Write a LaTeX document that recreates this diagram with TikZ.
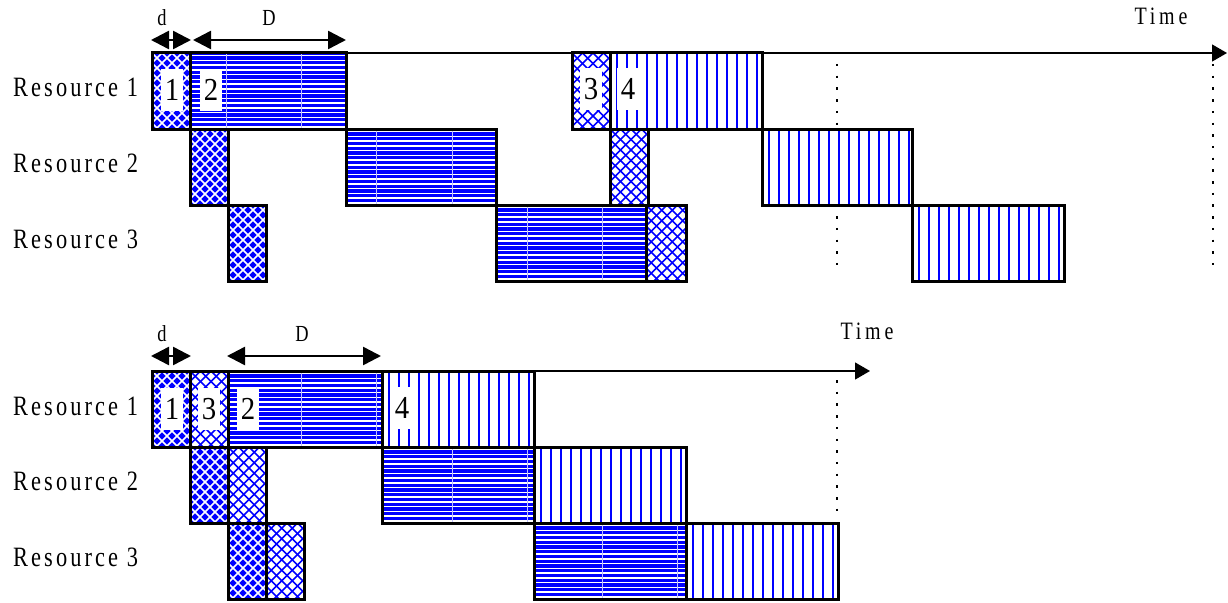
\documentclass[tikz,border=0pt]{standalone}
\usepackage{fontspec}
\setmainfont{Liberation Serif}
\newfontfamily\resfont[FakeStretch=0.8,LetterSpace=11]{Liberation Serif}
\newfontfamily\timefont[FakeStretch=0.8,LetterSpace=15]{Liberation Serif}
\newfontfamily\numfont[FakeStretch=0.9]{Liberation Serif}
\usetikzlibrary{arrows.meta}

\tikzset{
  border/.style={draw=black,line width=3pt},
  reslabel/.style={anchor=base west,inner sep=0pt,font={\resfont\fontsize{28}{30}\selectfont}},
  timelabel/.style={inner sep=0pt,font={\timefont\fontsize{25}{28}\selectfont}},
  dimlabel/.style={inner sep=0pt,font={\timefont\fontsize{23}{26}\selectfont}},
  numlabel/.style={fill=white,inner sep=0pt,minimum width=22pt,minimum height=42pt,font={\numfont\fontsize{32}{34}\selectfont}},
  axis/.style={draw=black,line width=1.3pt,-{Triangle[length=15pt,width=17pt]}},
  dimarrow/.style={draw=black,line width=2.5pt,{Triangle[length=18pt,width=18pt]}-{Triangle[length=18pt,width=18pt]},shorten <=-1pt,shorten >=-1pt},
  dotline/.style={draw=black,line width=2.5pt,dash pattern=on 2.5pt off 9.2pt},
}

% dark crosshatch: blue with white diagonal grid
\newcommand{\DarkX}[3]{%
  \begin{scope}
    \clip (#1,#2) rectangle (#3,#2+76);
    \fill[blue] (#1,#2) rectangle (#3,#2+76);
    \foreach \k in {-10,...,14}{
      \draw[white,line width=1.7pt] (#1+\k*10,#2) -- ++(76,76);
      \draw[white,line width=1.7pt] (#1+\k*10,#2) -- ++(-76,76);
    }
  \end{scope}
  \draw[border] (#1,#2) rectangle (#3,#2+76);
}
% light crosshatch: white with blue diagonal grid
\newcommand{\LightX}[3]{%
  \begin{scope}
    \clip (#1,#2) rectangle (#3,#2+76);
    \fill[white] (#1,#2) rectangle (#3,#2+76);
    \foreach \k in {-10,...,14}{
      \draw[blue,line width=1.7pt] (#1+\k*10.5,#2) -- ++(76,76);
      \draw[blue,line width=1.7pt] (#1+\k*10.5,#2) -- ++(-76,76);
    }
  \end{scope}
  \draw[border] (#1,#2) rectangle (#3,#2+76);
}
% horizontal stripes: blue with white lines
\newcommand{\HorzB}[3]{%
  \begin{scope}
    \clip (#1,#2) rectangle (#3,#2+76);
    \fill[blue] (#1,#2) rectangle (#3,#2+76);
    \foreach \k in {0,...,15}{
      \draw[white,line width=1.3pt] (#1,#2+2.6+\k*4.75) -- (#3,#2+2.6+\k*4.75);
    }
    \foreach \s in {226,301,376,452,527,602,677}{
      \draw[blue!25,line width=1pt] (\s,#2) -- (\s,#2+76);
    }
  \end{scope}
  \draw[border] (#1,#2) rectangle (#3,#2+76);
}
% vertical stripes: white with blue lines
\newcommand{\VertB}[3]{%
  \begin{scope}
    \clip (#1,#2) rectangle (#3,#2+76);
    \fill[white] (#1,#2) rectangle (#3,#2+76);
    \foreach \k in {0,...,14}{
      \draw[blue,line width=2pt] (#1+7+\k*10,#2) -- (#1+7+\k*10,#2+76);
    }
  \end{scope}
  \draw[border] (#1,#2) rectangle (#3,#2+76);
}

\begin{document}
\begin{tikzpicture}[x=1pt,y=-1pt]
\useasboundingbox (0,0) rectangle (1228,602);

% ---------------- top chart ----------------
\coordinate (tA0) at (152,53);
\coordinate (tA1) at (1227,53);
\coordinate (tdot1a) at (837,64);
\coordinate (tdot1b) at (837,268);
\coordinate (tdot2a) at (1213,64);
\coordinate (tdot2b) at (1213,268);
\draw[dotline] (tdot1a) -- (tdot1b);
\draw[dotline] (tdot2a) -- (tdot2b);
\draw[axis] (tA0) -- (tA1);

\DarkX{152}{53}{190}
\HorzB{190}{53}{346}
\LightX{572}{53}{610}
\VertB{610}{53}{762}

\DarkX{190}{129}{228}
\HorzB{346}{129}{496}
\LightX{610}{129}{648}
\VertB{762}{129}{912}

\DarkX{228}{205}{266}
\HorzB{496}{205}{646}
\LightX{646}{205}{686}
\VertB{912}{205}{1064}

\node[numlabel] (t1) at (172,90) {1};
\node[numlabel] (t2) at (211,90) {2};
\node[numlabel] (t3) at (591,89) {3};
\node[numlabel] (t4) at (628,89) {4};

\coordinate (td0) at (152,40);
\coordinate (td1) at (190,40);
\coordinate (tD0) at (194,40);
\coordinate (tD1) at (345,40);
\draw[dimarrow] (td0) -- (td1);
\draw[dimarrow] (tD0) -- (tD1);
\node[dimlabel] (tdl) at (162,18) {d};
\node[dimlabel] (tDl) at (269,18) {D};
\node[timelabel] (ttime) at (1161,16) {Time};

\node[reslabel] (tr1) at (13,96) {Resource 1};
\node[reslabel] (tr2) at (13,172) {Resource 2};
\node[reslabel] (tr3) at (13,248) {Resource 3};

% ---------------- bottom chart ----------------
\coordinate (bA0) at (152,371);
\coordinate (bA1) at (870,371);
\coordinate (bdota) at (837,380);
\coordinate (bdotb) at (837,520);
\draw[dotline] (bdota) -- (bdotb);
\draw[axis] (bA0) -- (bA1);

\DarkX{152}{371}{190}
\LightX{190}{371}{228}
\HorzB{228}{371}{382}
\VertB{382}{371}{534}

\DarkX{190}{447}{228}
\LightX{228}{447}{266}
\HorzB{382}{447}{534}
\VertB{534}{447}{686}

\DarkX{228}{523}{266}
\LightX{266}{523}{304}
\HorzB{534}{523}{686}
\VertB{686}{523}{838}

\node[numlabel] (b1) at (172,409) {1};
\node[numlabel] (b3) at (209,409) {3};
\node[numlabel] (b2) at (248,409) {2};
\node[numlabel] (b4) at (402,408) {4};

\coordinate (bd0) at (152,356);
\coordinate (bd1) at (190,356);
\coordinate (bD0) at (228,356);
\coordinate (bD1) at (380,356);
\draw[dimarrow] (bd0) -- (bd1);
\draw[dimarrow] (bD0) -- (bD1);
\node[dimlabel] (bdl) at (162,334) {d};
\node[dimlabel] (bDl) at (302,334) {D};
\node[timelabel] (btime) at (867,331) {Time};

\node[reslabel] (br1) at (13,415) {Resource 1};
\node[reslabel] (br2) at (13,490) {Resource 2};
\node[reslabel] (br3) at (13,566) {Resource 3};
\end{tikzpicture}
\end{document}
